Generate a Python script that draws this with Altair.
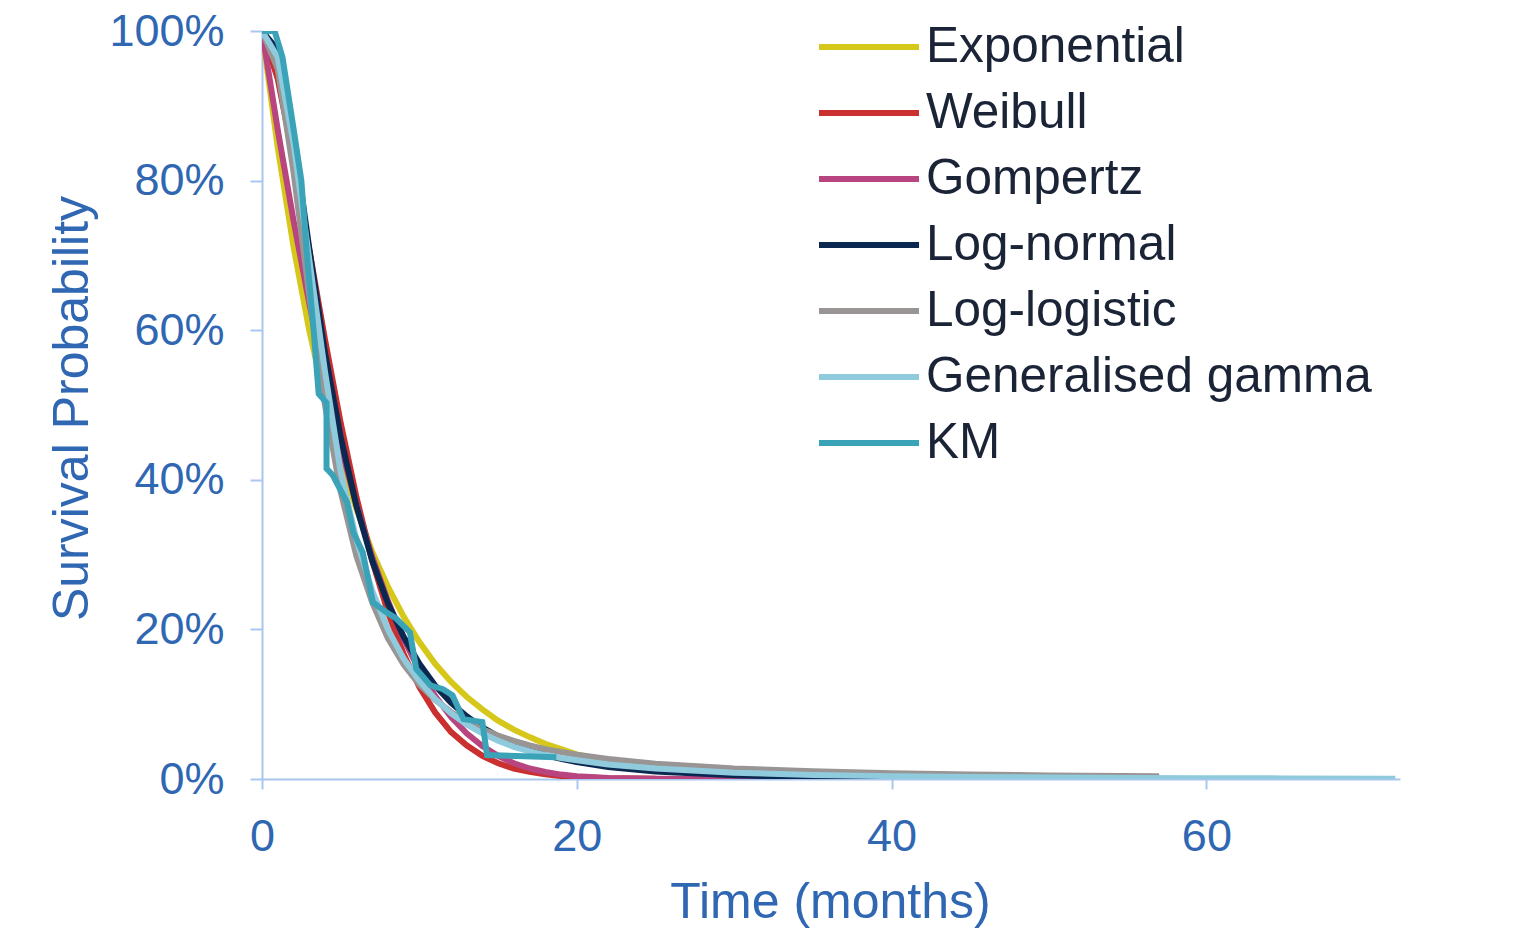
import altair as alt
import pandas as pd

SERIES = ["Exponential", "Weibull", "Gompertz", "Log-normal", "Log-logistic", "Generalised gamma", "KM"]
COLORS = ["#D6C81B", "#C9302F", "#B8457F", "#0B2851", "#9A9595", "#8FCBDD", "#3AA3B8"]
WIDTHS = [6, 6, 6, 6, 6, 6, 7]

T_EXP = [0, 1, 2, 3, 4, 5, 6, 7, 8, 9, 10, 11, 12, 13, 14, 15, 16, 17, 18, 19, 20, 22, 25, 30, 35, 40]
S_EXP = [100, 84.4, 71.2, 60.0, 50.7, 42.7, 36.1, 30.4, 25.7, 21.7, 18.3, 15.4, 13.0, 11.0, 9.3, 7.8, 6.6, 5.6, 4.7, 4.0, 3.3, 2.4, 1.4, 0.6, 0.3, 0.1]

T_WEI = [0, 1, 2, 3, 4, 5, 6, 7, 8, 9, 10, 11, 12, 13, 14, 15, 16, 17, 18, 19, 20, 22, 25]
S_WEI = [100, 93.6, 82.9, 70.8, 58.8, 47.6, 37.7, 29.2, 22.3, 16.7, 12.3, 8.9, 6.3, 4.5, 3.1, 2.1, 1.4, 0.95, 0.63, 0.41, 0.26, 0.1, 0.02]

T_GOM = [0, 1, 2, 3, 4, 5, 6, 7, 8, 9, 10, 11, 12, 13, 14, 15, 16, 17, 18, 19, 20, 22, 25, 30, 35]
S_GOM = [100, 86.8, 74.7, 63.6, 53.5, 44.5, 36.6, 29.7, 23.8, 18.7, 14.5, 11.1, 8.3, 6.1, 4.4, 3.1, 2.1, 1.4, 0.93, 0.59, 0.36, 0.12, 0.02, 0, 0]

T_LN = [0, 1, 2, 3, 4, 5, 6, 7, 8, 9, 10, 11, 12, 13, 14, 15, 16, 17, 18, 19, 20, 22, 25, 30, 35, 40, 44]
S_LN = [100, 97.5, 86, 71, 57, 45.7, 36.5, 29.2, 23.5, 19, 15.4, 12.5, 10.2, 8.4, 6.9, 5.7, 4.7, 3.9, 3.2, 2.7, 2.25, 1.6, 1.0, 0.5, 0.25, 0.12, 0.06]

T_LL = [0, 1, 2, 3, 4, 5, 6, 7, 8, 9, 10, 11, 12, 13, 14, 15, 16, 17, 18, 19, 20, 22, 25, 30, 35, 40, 45, 50, 57]
S_LL = [100, 94.9, 81.2, 64.7, 50, 38.4, 29.8, 23.6, 18.8, 15.3, 12.6, 10.6, 8.96, 7.67, 6.64, 5.8, 5.1, 4.5, 4.0, 3.6, 3.25, 2.67, 2.05, 1.4, 1.02, 0.77, 0.6, 0.48, 0.37]

T_GG = [0, 1, 2, 3, 4, 5, 6, 7, 8, 9, 10, 11, 12, 13, 14, 15, 16, 17, 18, 19, 20, 22, 25, 30, 35, 40, 45, 50, 55, 60, 65, 72]
S_GG = [100, 96.5, 85, 69.5, 54.5, 41, 32, 25.2, 20, 16.1, 13.1, 10.7, 8.8, 7.3, 6.1, 5.1, 4.3, 3.7, 3.2, 2.8, 2.5, 1.95, 1.4, 0.85, 0.55, 0.38, 0.27, 0.2, 0.15, 0.11, 0.08, 0.05]

T_KM = [0, 0.8, 1.3, 2.0, 2.5, 2.9, 3.3, 3.6, 4.1, 4.1, 4.5, 5.4, 5.8, 6.4, 7.05, 7.9, 8.5, 9.4, 9.8, 10.7, 11.5, 12.1, 12.8, 14.0, 14.3, 18.7]
S_KM = [100, 100, 96.5, 87, 80, 69, 59.5, 51.5, 50.3, 41.5, 40.6, 37, 33, 30.3, 23.6, 22.3, 21.5, 19.6, 14.7, 12.5, 12, 11.2, 8, 7.6, 3.2, 2.9]

X_TICKS = [0, 20, 40, 60]
Y_TICKS = [0, 20, 40, 60, 80, 100]

rows = []
for name, ts, ss in zip(SERIES, [T_EXP, T_WEI, T_GOM, T_LN, T_LL, T_GG, T_KM],
                        [S_EXP, S_WEI, S_GOM, S_LN, S_LL, S_GG, S_KM]):
    for i, (t, s) in enumerate(zip(ts, ss)):
        rows.append({"series": name, "t": t, "s": s, "idx": i})
df = pd.DataFrame(rows)

FONT = "Liberation Sans"
BLUE = "#2F67B3"
AXIS_LINE = "#A9C6EE"

chart = alt.Chart(df).mark_line(strokeJoin="miter", clip=True).encode(
    x=alt.X("t:Q", scale=alt.Scale(domain=[0, 72.3], nice=False),
            axis=alt.Axis(values=X_TICKS, title="Time (months)", titleX=568, titleY=138,
                          titleBaseline="alphabetic", labelPadding=25, tickSize=10,
                          labelFlush=False)),
    y=alt.Y("s:Q", scale=alt.Scale(domain=[0, 100], nice=False),
            axis=alt.Axis(values=Y_TICKS, labelExpr="datum.value + '%'", title="Survival Probability",
                          titleX=-190, titleY=377, titleBaseline="middle", titleAngle=-90,
                          labelPadding=26, tickSize=12, labelFlush=False)),
    color=alt.Color("series:N", scale=alt.Scale(domain=SERIES, range=COLORS),
                    legend=alt.Legend(title=None, orient="none", legendX=579, legendY=-12,
                                      symbolType="M-2,0H2", symbolSize=2500, symbolStrokeWidth=6,
                                      symbolFillColor="transparent",
                                      labelFontSize=49.5, labelFont=FONT, labelColor="#1B2436",
                                      labelOffset=29, rowPadding=13, labelLimit=600)),
    strokeWidth=alt.StrokeWidth("series:N", scale=alt.Scale(domain=SERIES, range=WIDTHS), legend=None),
    order=alt.Order("idx:Q"),
).properties(
    width=1138, height=748,
    padding={"left": 254, "top": 23, "right": 100, "bottom": 150},
    autosize=alt.AutoSizeParams(type="none"),
).configure_view(stroke=None).configure_axis(
    grid=False, domainColor=AXIS_LINE, tickColor=AXIS_LINE, domainWidth=2, tickWidth=2,
    labelFont=FONT, labelFontSize=45, labelColor=BLUE, titleFont=FONT, titleFontSize=50,
    titleColor=BLUE, titleFontWeight="normal",
)

chart.save("out.html", embed_options={"renderer": "svg", "actions": False})
